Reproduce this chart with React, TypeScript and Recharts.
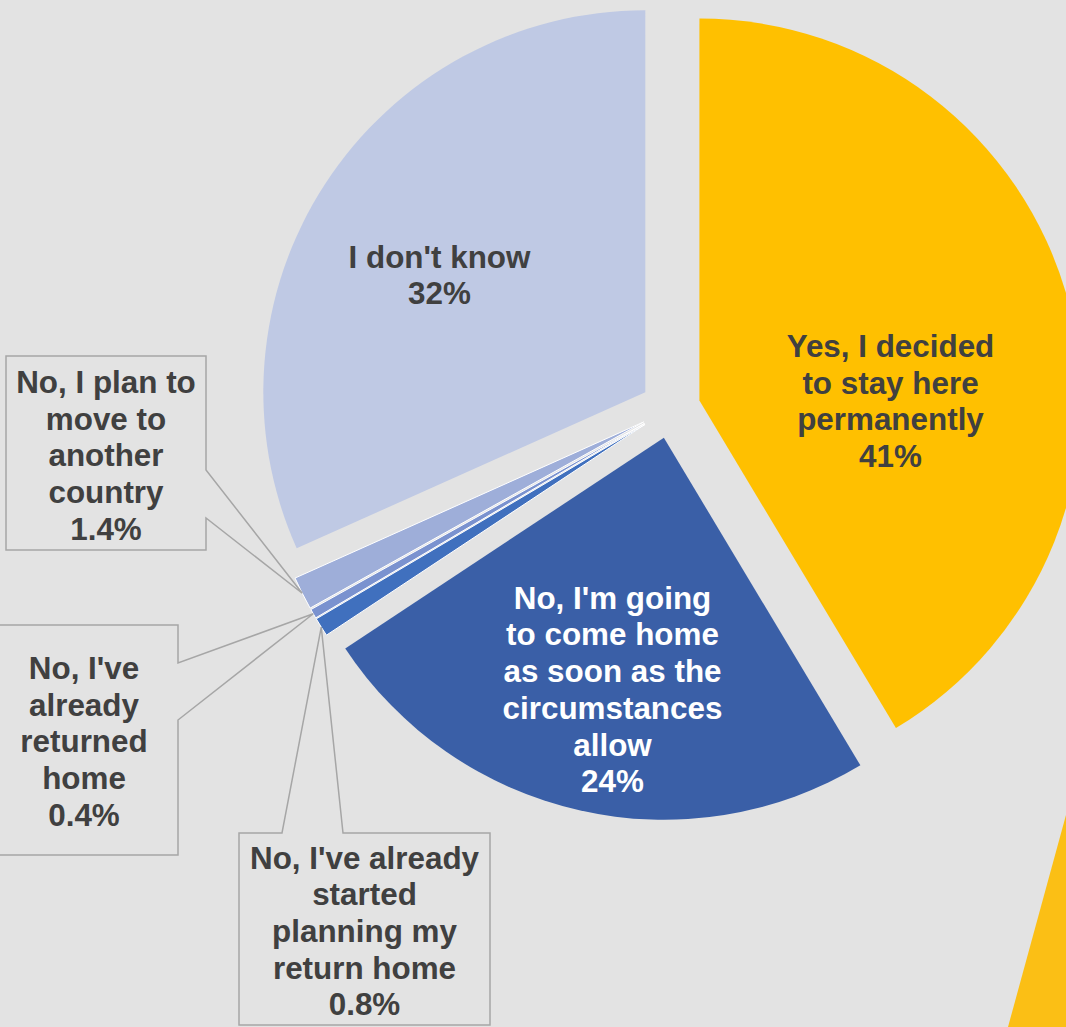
import React from "react";
import { PieChart, Pie, Cell, Sector } from "recharts";

const categories = [
  "Yes, I decided to stay here permanently",
  "No, I'm going to come home as soon as the circumstances allow",
  "No, I've already started planning my return home",
  "No, I've already returned home",
  "No, I plan to move to another country",
  "I don't know",
];
const shares = [41.4, 24.3, 0.8, 0.4, 1.4, 31.7];

const data = categories.map((name, i) => ({ name, value: shares[i] }));

const sliceColors: Record<string, string> = {
  [categories[0]]: "#ffc000",
  [categories[1]]: "#3a5fa7",
  [categories[2]]: "#4070be",
  [categories[3]]: "#7a92cf",
  [categories[4]]: "#9eaed9",
  [categories[5]]: "#bfc9e4",
};

// how the data labels wrap (same as the source chart)
const labelLines: Record<string, string[]> = {
  [categories[0]]: ["Yes, I decided", "to stay here", "permanently"],
  [categories[1]]: ["No, I'm going", "to come home", "as soon as the", "circumstances", "allow"],
  [categories[2]]: ["No, I've already", "started", "planning my", "return home"],
  [categories[3]]: ["No, I've", "already", "returned", "home"],
  [categories[4]]: ["No, I plan to", "move to", "another", "country"],
  [categories[5]]: ["I don't know"],
};

// label placement relative to pie centre; boxed callouts for the thin slices
type Layout = {
  dx: number;
  dy: number;
  color: string;
  box?: { x0: number; y0: number; x1: number; y1: number };
  wedge?: { side: "right" | "top"; a: number; b: number };
};
const labelLayout: Record<string, Layout> = {
  [categories[0]]: { dx: 220, dy: -7.5, color: "#404040" },
  [categories[1]]: { dx: -58, dy: 281, color: "#ffffff" },
  [categories[2]]: {
    dx: -306, dy: 522.5, color: "#404040",
    box: { x0: -431.5, y0: 424.5, x1: -180.5, y1: 616.5 },
    wedge: { side: "top", a: -388.5, b: -327.5 },
  },
  [categories[3]]: {
    dx: -586.5, dy: 333, color: "#404040",
    box: { x0: -682.5, y0: 216.5, x1: -492.5, y1: 446.5 },
    wedge: { side: "right", a: 254.5, b: 311.5 },
  },
  [categories[4]]: {
    dx: -564.5, dy: 47, color: "#404040",
    box: { x0: -664.5, y0: -52.5, x1: -464.5, y1: 141.5 },
    wedge: { side: "right", a: 61.5, b: 109.5 },
  },
  [categories[5]]: { dx: -231, dy: -133.5, color: "#404040" },
};

const WIDTH = 1066;
const HEIGHT = 1027;
const CX = 670.5;
const CY = 408.5;
const RADIUS = 382;
const EXPLODE = 30;
const FONT = 31.4;
const LINE_H = 36.7;
const BG = "#e3e3e3";
const RAD = Math.PI / 180;

const ExplodedSector = (props: any) => {
  const { cx, cy, midAngle, innerRadius, outerRadius, startAngle, endAngle, fill, stroke, strokeWidth } = props;
  const ox = EXPLODE * Math.cos(-midAngle * RAD);
  const oy = EXPLODE * Math.sin(-midAngle * RAD);
  return (
    <Sector
      cx={cx + ox}
      cy={cy + oy}
      innerRadius={innerRadius}
      outerRadius={outerRadius}
      startAngle={startAngle}
      endAngle={endAngle}
      fill={fill}
      stroke={stroke}
      strokeWidth={strokeWidth}
    />
  );
};

const formatShare = (v: number) => (v >= 10 ? `${Math.round(v)}%` : `${v.toFixed(1)}%`);

const renderLabel = (props: any) => {
  const { cx, cy, midAngle, outerRadius, value } = props;
  const name = props.name ?? props.payload?.name;
  const layout = labelLayout[name];
  if (!layout) return null;
  const lines = [...(labelLines[name] || [name]), formatShare(value)];
  const tx = cx + layout.dx;
  const ty = cy + layout.dy;
  const first = ty - ((lines.length - 1) * LINE_H) / 2;

  let callout = null;
  if (layout.box && layout.wedge) {
    const ex = cx + EXPLODE * Math.cos(-midAngle * RAD);
    const ey = cy + EXPLODE * Math.sin(-midAngle * RAD);
    const tipX = ex + outerRadius * Math.cos(-midAngle * RAD);
    const tipY = ey + outerRadius * Math.sin(-midAngle * RAD);
    const x0 = cx + layout.box.x0;
    const x1 = cx + layout.box.x1;
    const y0 = cy + layout.box.y0;
    const y1 = cy + layout.box.y1;
    let d = "";
    if (layout.wedge.side === "right") {
      const a = cy + layout.wedge.a;
      const b = cy + layout.wedge.b;
      d = `M${x0},${y0} L${x1},${y0} L${x1},${a} L${tipX},${tipY} L${x1},${b} L${x1},${y1} L${x0},${y1} Z`;
    } else {
      const a = cx + layout.wedge.a;
      const b = cx + layout.wedge.b;
      d = `M${x0},${y0} L${a},${y0} L${tipX},${tipY} L${b},${y0} L${x1},${y0} L${x1},${y1} L${x0},${y1} Z`;
    }
    callout = <path d={d} fill={BG} stroke="#a6a6a6" strokeWidth={1.5} />;
  }

  return (
    <g>
      {callout}
      {lines.map((line, i) => (
        <text
          key={i}
          x={tx}
          y={first + i * LINE_H + FONT * 0.35}
          textAnchor="middle"
          fill={layout.color}
          fontSize={FONT}
          fontWeight="bold"
          fontFamily="'Liberation Sans', Arial, sans-serif"
        >
          {line}
        </text>
      ))}
    </g>
  );
};

export default function App() {
  return (
    <div
      style={{
        position: "absolute",
        left: 0,
        top: 0,
        width: WIDTH,
        height: HEIGHT,
        background: BG,
        overflow: "hidden",
      }}
    >
      <PieChart width={WIDTH} height={HEIGHT} margin={{ top: 0, right: 0, bottom: 0, left: 0 }}>
        <Pie
          data={data}
          dataKey="value"
          nameKey="name"
          cx={CX}
          cy={CY}
          outerRadius={RADIUS}
          startAngle={90}
          endAngle={-270}
          isAnimationActive={false}
          {...({ shape: ExplodedSector } as any)}
          activeShape={ExplodedSector}
          inactiveShape={ExplodedSector}
          label={renderLabel}
          labelLine={false}
        >
          {data.map((entry, index) => (
            <Cell
              key={`cell-${index}`}
              fill={sliceColors[entry.name]}
              stroke={entry.value < 5 ? "#ffffff" : "none"}
              strokeWidth={entry.value < 5 ? 1 : 0}
            />
          ))}
        </Pie>
      </PieChart>
      <svg
        width={WIDTH}
        height={HEIGHT}
        style={{ position: "absolute", left: 0, top: 0, pointerEvents: "none" }}
      >
        <polygon points="1008,1027 1066,815 1066,1027" fill="#fbbf15" />
      </svg>
    </div>
  );
}
